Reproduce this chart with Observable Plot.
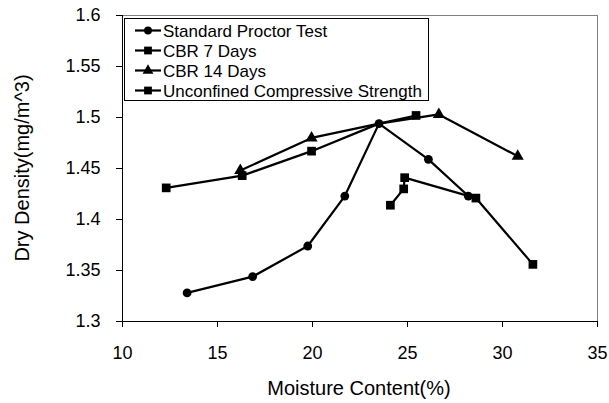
<!DOCTYPE html>
<html>
<head>
<meta charset="utf-8">
<script src="https://cdn.jsdelivr.net/npm/d3@7"></script>
<script src="https://cdn.jsdelivr.net/npm/@observablehq/plot@0.6"></script>
<style>
  html, body { margin: 0; padding: 0; background: #fff; }
  #chart { width: 609px; height: 403px; }
  svg { font-family: "Liberation Sans", Arial, sans-serif; }
</style>
</head>
<body>
<div id="chart"></div>
<script>
// Series data (moisture content %, dry density mg/m^3)
const proctorX = [13.4, 16.85, 19.75, 21.7, 23.5, 26.1, 28.2];
const proctorY = [1.328, 1.344, 1.374, 1.423, 1.494, 1.459, 1.423];
const cbr7X = [12.3, 16.3, 19.95, 23.5, 25.45];
const cbr7Y = [1.431, 1.443, 1.467, 1.494, 1.502];
const cbr14X = [16.2, 19.95, 23.5, 26.65, 30.8];
const cbr14Y = [1.448, 1.480, 1.494, 1.503, 1.462];
const ucsX = [24.1, 24.8, 24.85, 28.6, 31.6];
const ucsY = [1.414, 1.430, 1.441, 1.421, 1.356];

const seriesNames = ["Standard Proctor Test", "CBR 7 Days", "CBR 14 Days", "Unconfined Compressive Strength"];
const seriesSymbols = ["circle", "square", "triangle", "square"];

const xTicks = [10, 15, 20, 25, 30, 35];
const yTicks = [1.3, 1.35, 1.4, 1.45, 1.5, 1.55, 1.6];
const yTickLabels = ["1.3", "1.35", "1.4", "1.45", "1.5", "1.55", "1.6"];

const xLabel = "Moisture Content(%)";
const yLabel = "Dry Density(mg/m^3)";

const toRows = (name, xs, ys) => xs.map((x, i) => ({series: name, x, y: ys[i]}));
const seriesRows = [
  toRows(seriesNames[0], proctorX, proctorY),
  toRows(seriesNames[1], cbr7X, cbr7Y),
  toRows(seriesNames[2], cbr14X, cbr14Y),
  toRows(seriesNames[3], ucsX, ucsY)
];
// points shared with the Proctor curve are hidden behind its circle marker
const onProctor = d => proctorX.some((px, i) => px === d.x && proctorY[i] === d.y);

const symSize = {circle: 4.4, square: 4.9, triangle: 4.5};

const marks = [
  Plot.ruleY([1.6], {stroke: "#808080", strokeWidth: 1}),
  Plot.ruleX([35], {stroke: "#808080", strokeWidth: 1}),
  Plot.axisX({ticks: xTicks, tickSize: 6, tickPadding: 19, fontSize: 18, label: null, stroke: "#000", color: "#000"}),
  Plot.axisY({ticks: yTicks, tickSize: 6, tickPadding: 16, fontSize: 18, label: null,
              tickFormat: d => yTickLabels[yTicks.indexOf(d)], color: "#000"}),
  Plot.ruleX([10], {stroke: "#000", strokeWidth: 1}),
  Plot.ruleY([1.3], {stroke: "#000", strokeWidth: 1})
];
for (let i = seriesRows.length - 1; i >= 0; i--) {
  marks.push(Plot.line(seriesRows[i], {x: "x", y: "y", stroke: "#000", strokeWidth: 2.2}));
}
for (let i = seriesRows.length - 1; i >= 0; i--) {
  const s = seriesSymbols[i];
  const rows = i === 0 ? seriesRows[i] : seriesRows[i].filter(d => !onProctor(d));
  marks.push(Plot.dot(rows, {x: "x", y: "y", symbol: () => s, r: symSize[s], fill: "#000", stroke: "none"}));
}

const chart = Plot.plot({
  width: 609,
  height: 403,
  marginLeft: 122,
  marginRight: 12,
  marginTop: 15,
  marginBottom: 82,
  style: {fontFamily: '"Liberation Sans", Arial, sans-serif', background: "#fff", color: "#000", overflow: "visible"},
  x: {domain: [10, 35]},
  y: {domain: [1.3, 1.6]},
  symbol: {domain: ["circle", "square", "triangle"], range: ["circle", "square", "triangle"]},
  marks
});
document.getElementById("chart").appendChild(chart);

// Axis titles and in-plot legend
const svg = d3.select(chart);
svg.append("text")
  .attr("x", 359).attr("y", 395)
  .attr("text-anchor", "middle")
  .attr("font-size", 20)
  .attr("fill", "#000")
  .text(xLabel);
svg.append("text")
  .attr("transform", "translate(29,168) rotate(-90)")
  .attr("text-anchor", "middle")
  .attr("font-size", 20)
  .attr("fill", "#000")
  .text(yLabel);

const lg = svg.append("g").attr("text-anchor", "start");
lg.append("rect")
  .attr("x", 124.5).attr("y", 18.5).attr("width", 304).attr("height", 82)
  .attr("fill", "#fff").attr("stroke", "#000").attr("stroke-width", 1);
const d3sym = {circle: d3.symbolCircle, square: d3.symbolSquare, triangle: d3.symbolTriangle};
seriesNames.forEach((name, i) => {
  const cy = 30.5 + i * 20;
  lg.append("line").attr("x1", 135).attr("x2", 161).attr("y1", cy).attr("y2", cy)
    .attr("stroke", "#000").attr("stroke-width", 2.2);
  const s = seriesSymbols[i];
  lg.append("path")
    .attr("transform", `translate(148,${cy})`)
    .attr("d", d3.symbol(d3sym[s], Math.PI * symSize[s] * symSize[s] * 0.8)())
    .attr("fill", "#000");
  lg.append("text").attr("x", 163).attr("y", cy + 6)
    .attr("text-anchor", "start")
    .attr("font-size", 17).attr("fill", "#000").text(name);
});
</script>
</body>
</html>
